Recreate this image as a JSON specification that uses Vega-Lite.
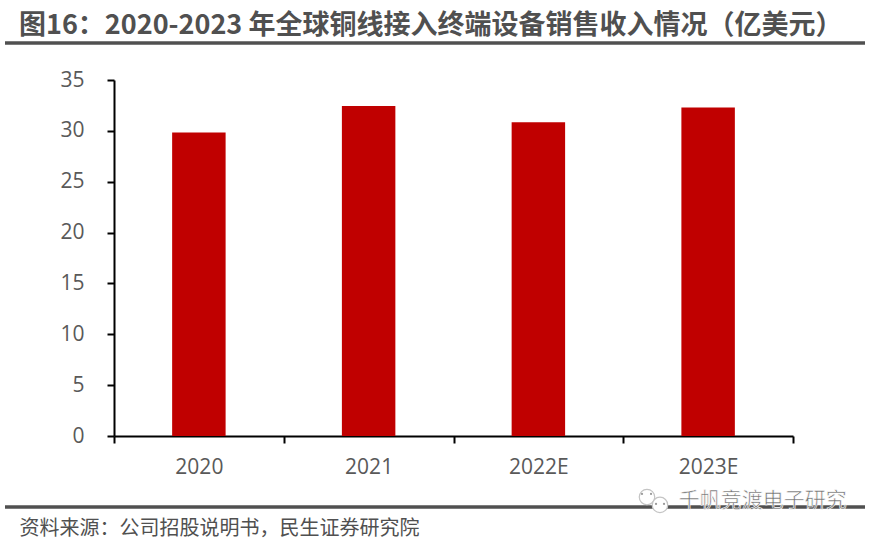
{
"$schema":"https://vega.github.io/schema/vega-lite/v6.json",
"width":679,"height":356,
"autosize":{"type":"none"},
"padding":{"left":114,"top":80,"right":82,"bottom":104},
"background":"white",
"config":{"view":{"stroke":null},"font":"Noto Sans CJK SC"},
"title":{"text":"图16：2020-2023 年全球铜线接入终端设备销售收入情况（亿美元）","font":"Noto Sans CJK SC","fontSize":27,"fontWeight":"bold","color":"#505050","anchor":"start","frame":"group","dx":-95,"offset":1},
"layer":[
{"data":{"values":[{"year":"2020","value":29.85},{"year":"2021","value":32.45},{"year":"2022E","value":30.85},{"year":"2023E","value":32.3}]},
"mark":{"type":"bar","color":"#C00000","width":{"band":0.315}},
"encoding":{
"x":{"field":"year","type":"nominal","sort":null,"scale":{"paddingInner":0,"paddingOuter":0},
"axis":{"title":"资料来源：公司招股说明书，民生证券研究院","titleFont":"Noto Sans CJK SC","titleFontSize":20,"titleFontWeight":"normal","titleColor":"#505050","titleAnchor":"start","titleAlign":"left","titleBaseline":"middle","titleX":-95,"titleY":92,
"labelAngle":0,"labelFont":"Open Sans","labelFontSize":21,"labelColor":"#595959","labelPadding":13,"tickBand":"extent","tickSize":7,"tickColor":"#000000","tickWidth":2,"domainColor":"#000000","domainWidth":2,"grid":false}},
"y":{"field":"value","type":"quantitative","scale":{"domain":[0,35],"nice":false},
"axis":{"title":null,"values":[0,5,10,15,20,25,30,35],"labelFont":"Open Sans","labelFontSize":21,"labelColor":"#595959","labelPadding":23,"tickSize":7,"tickColor":"#000000","tickWidth":2,"domainColor":"#000000","domainWidth":2,"grid":false}}
}},
{"data":{"values":[{"line":"title","from":0,"to":1,"level":38.64},{"line":"source","from":0,"to":1,"level":-6.98}]},
"mark":{"type":"rule","color":"#505050","strokeWidth":3.5},
"encoding":{
"x":{"field":"from","type":"quantitative","scale":{"domain":[0,1],"range":[-109,751]},"axis":null},
"x2":{"field":"to"},
"y":{"field":"level","type":"quantitative"}
}},
{"data":{"values":[{"part":"bubble1","from":0.7465,"level":-6.0},{"part":"bubble2","from":0.7616,"level":-6.78}]},
"mark":{"type":"point","shape":"circle","filled":true,"fill":"white","stroke":"#c4c4c4","strokeWidth":1.2,"size":240,"opacity":1},
"encoding":{
"x":{"field":"from","type":"quantitative","scale":{"domain":[0,1],"range":[-109,751]},"axis":null},
"y":{"field":"level","type":"quantitative"}
}},
{"data":{"values":[{"part":"eye1","from":0.7407,"level":-5.7},{"part":"eye2","from":0.7512,"level":-5.7},{"part":"eye3","from":0.757,"level":-6.68},{"part":"eye4","from":0.7663,"level":-6.68}]},
"mark":{"type":"point","shape":"circle","filled":true,"color":"#9a9a9a","size":5,"opacity":1},
"encoding":{
"x":{"field":"from","type":"quantitative","scale":{"domain":[0,1],"range":[-109,751]},"axis":null},
"y":{"field":"level","type":"quantitative"}
}},
{"data":{"values":[{"name":"watermark","from":0.7835,"level":-6.39,"text":"千帆竞渡电子研究"}]},
"mark":{"type":"text","align":"left","baseline":"middle","fontSize":21,"font":"Noto Sans CJK SC","color":"#6e6e6e","stroke":"white","strokeWidth":0.6},
"encoding":{
"x":{"field":"from","type":"quantitative","scale":{"domain":[0,1],"range":[-109,751]},"axis":null},
"y":{"field":"level","type":"quantitative"},
"text":{"field":"text"}
}}
],
"resolve":{"scale":{"x":"independent"},"axis":{"x":"independent"}}
}
